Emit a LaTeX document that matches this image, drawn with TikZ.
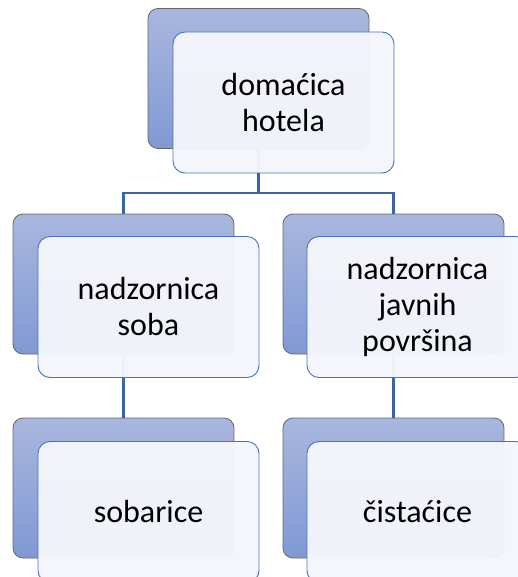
\documentclass[tikz,border=0pt]{standalone}
\usepackage{fontspec}
\setmainfont{Carlito}
\usepackage{tikz}

\definecolor{backtop}{HTML}{A9B7DE}
\definecolor{backbot}{HTML}{8099D4}
\definecolor{backline}{HTML}{666666}
\definecolor{frontfill}{HTML}{F5F6FB}
\definecolor{frontline}{HTML}{4472C4}
\definecolor{busline}{HTML}{3C62A8}

\tikzset{
  backbox/.style={draw=backline, line width=0.8pt, rounded corners=10pt,
    top color=backtop, bottom color=backbot,
    minimum width=221pt, minimum height=140pt, inner sep=0pt},
  frontbox/.style={draw=frontline, line width=0.9pt, rounded corners=12pt,
    fill=frontfill, fill opacity=0.96, text opacity=1,
    minimum width=221pt, minimum height=141pt, inner sep=0pt,
    align=center, font=\fontsize{32}{36}\selectfont},
  bus/.style={draw=busline, line width=2.4pt}
}

\begin{document}
\begin{tikzpicture}[x=1pt,y=-1pt]
    \useasboundingbox (0,0) rectangle (518,577);
    \clip (0,0) rectangle (518,577);
    % back boxes
    \node[backbox] (b1) at (258.5,78.5) {};
    \node[backbox] (b2) at (123.5,284) {};
    \node[backbox] (b3) at (393.5,284) {};
    \node[backbox] (b4) at (123.5,488) {};
    \node[backbox] (b5) at (393.5,488) {};
    % connectors
    \coordinate (split) at (258.5,193);
    \draw[bus] (b1.south) -- (split) -| (b2.north);
    \draw[bus] (split) -| (b3.north);
    \draw[bus] (b2.south) -- (b4.north);
    \draw[bus] (b3.south) -- (b5.north);
    % front boxes
    \node[frontbox] (f1) at (283.5,102.5) {domaćica\\hotela};
    \node[frontbox] (f2) at (148.5,307) {nadzornica\\soba};
    \node[frontbox] (f3) at (417.5,307) {nadzornica\\javnih\\površina};
    \node[frontbox] (f4) at (148.5,512) {sobarice};
    \node[frontbox] (f5) at (417.5,512) {čistaćice};
\end{tikzpicture}
\end{document}
